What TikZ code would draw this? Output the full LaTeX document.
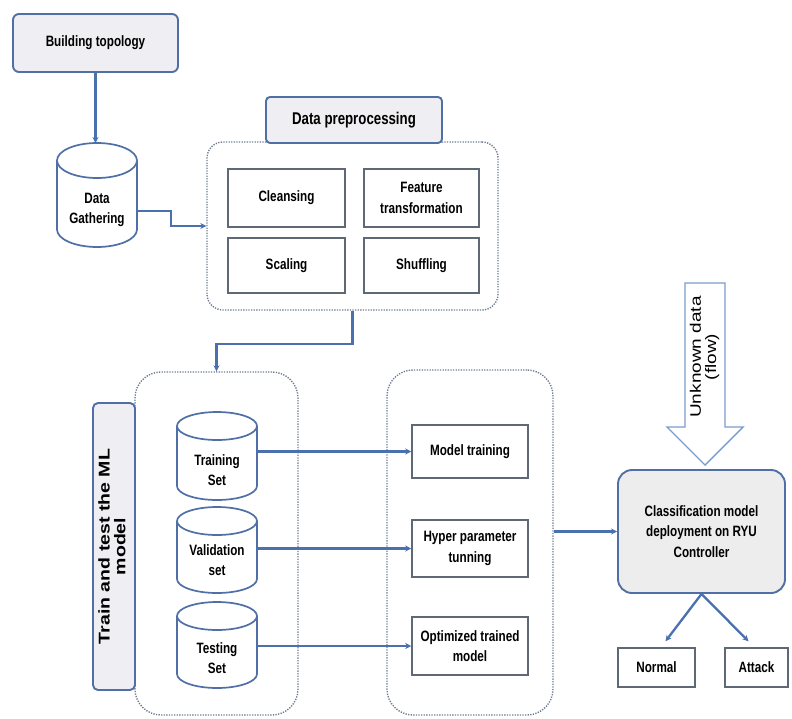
\documentclass[tikz,border=0pt]{standalone}
\usepackage{fontspec}
\setmainfont{Liberation Sans}
\newfontfamily\nar{Liberation Sans}[FakeStretch=0.78]
\newfontfamily\wide{Liberation Sans}
\usetikzlibrary{arrows.meta,calc}
\definecolor{bline}{HTML}{4F6FA6}
\definecolor{aline}{HTML}{4A70AE}
\definecolor{gline}{HTML}{5F6875}
\definecolor{dline}{HTML}{6F7C90}
\definecolor{lfill}{HTML}{EEEEF3}
\definecolor{cfill}{HTML}{EDEDED}
\definecolor{uline}{HTML}{7C9CCB}
\newcommand\mkcyl[6]{%
  \node[minimum width=#4pt, minimum height=#5pt, inner sep=0pt, outer sep=0pt] (#1) at ({#2+#4/2},{#3+#5/2}) {};
  \draw[cyl] ([yshift=-#6pt]#1.north west) -- ([yshift=#6pt]#1.south west)
     arc[start angle=180,end angle=360,x radius={#4/2*1pt},y radius=#6pt]
     -- ([yshift=-#6pt]#1.north east)
     arc[start angle=0,end angle=180,x radius={#4/2*1pt},y radius=#6pt] -- cycle;
  \draw[cyl] ([yshift=-#6pt]#1.north west) arc[start angle=180,end angle=360,x radius={#4/2*1pt},y radius=#6pt];
}
\begin{document}
\begin{tikzpicture}[x=1pt,y=-1pt,
  font=\nar\bfseries\fontsize{15}{20.5}\selectfont,
  lbl/.style={draw=bline, line width=1.9pt, fill=lfill, rounded corners=6pt, align=center, inner sep=0pt},
  plain/.style={draw=gline, line width=1.5pt, fill=white, align=center, inner sep=0pt},
  cont/.style={draw=dline, line width=1.4pt, dash pattern=on 1.3pt off 1.3pt},
  cyl/.style={draw=bline, line width=1.7pt, fill=white},
  arr/.style={draw=aline, line width=2.3pt, -{Stealth[length=6pt,width=6pt]}}]
\useasboundingbox (0,0) rectangle (792,718);

% top
\node[lbl, minimum width=165pt, minimum height=58pt] (BT) at (95.5,43) {Building topology};
\mkcyl{DG}{57}{143}{80}{104}{17.5}
\node[align=center] (DGt) at ($(DG.center)+(0,15)$) {Data\\Gathering};

% data preprocessing
\node[cont, rounded corners=16pt, minimum width=291pt, minimum height=168pt] (PR) at (352.5,226) {};
\node[lbl, rounded corners=4pt, font=\nar\bfseries\fontsize{17}{20}\selectfont, minimum width=176pt, minimum height=46pt] (PL) at (354,120) {Data preprocessing};
\node[plain, minimum width=117pt, minimum height=58pt] (CLS) at (286.5,198) {Cleansing};
\node[plain, minimum width=115pt, minimum height=58pt] (FT) at (421.5,198) {Feature\\transformation};
\node[plain, minimum width=117pt, minimum height=55pt] (SC) at (286.5,265.5) {Scaling};
\node[plain, minimum width=115pt, minimum height=55pt] (SH) at (421.5,265.5) {Shuffling};

% train container
\node[cont, rounded corners=26pt, minimum width=163pt, minimum height=343pt] (TC) at (216.5,543.5) {};
\node[lbl, rounded corners=5pt, rotate=90, minimum width=287pt, minimum height=42pt] (TL) at (114,546.5)
  {\scalebox{1}[0.8]{\wide\bfseries\fontsize{19.5}{18.5}\selectfont\begin{tabular}{@{}c@{}}Train and test the ML\\model\end{tabular}}};
\mkcyl{TS}{177}{412}{80}{88}{14}
\node[align=center] (TSt) at ($(TS.center)+(0,14)$) {Training\\Set};
\mkcyl{VS}{177}{507}{80}{86}{14}
\node[align=center] (VSt) at ($(VS.center)+(0,10)$) {Validation\\set};
\mkcyl{ES}{177}{602}{80}{86}{14}
\node[align=center] (ESt) at ($(ES.center)+(0,13)$) {Testing\\Set};

% model container
\node[cont, rounded corners=26pt, minimum width=166pt, minimum height=345pt] (MC) at (470,542.5) {};
\node[plain, minimum width=116pt, minimum height=53pt] (MT) at (470,451.5) {Model training};
\node[plain, minimum width=116pt, minimum height=57pt] (HP) at (470,548.5) {Hyper parameter\\tunning};
\node[plain, minimum width=116pt, minimum height=58pt] (OT) at (470,646) {Optimized trained\\model};

% classification
\node[lbl, fill=cfill, rounded corners=14pt, minimum width=167pt, minimum height=123pt] (CL) at (701.5,531.5)
  {Classification model\\deployment on RYU\\Controller};
\node[plain, minimum width=77pt, minimum height=39pt] (NO) at (656.5,667.5) {Normal};
\node[plain, minimum width=63pt, minimum height=39pt] (AT) at (756.5,667.5) {Attack};

% big hollow arrow
\draw[uline, line width=1.4pt, fill=white] (685,283) -- (725,283) -- (725,427) -- (743,427) -- (705,465) -- (667,427) -- (685,427) -- cycle;
\node[rotate=90] (UD) at (705,357)
  {\scalebox{1}[0.8]{\wide\mdseries\fontsize{19}{17}\selectfont\begin{tabular}{@{}c@{}}Unknown data\\(flow)\end{tabular}}};

% connectors
\draw[arr] (BT.south) -- (BT.south |- DG.north);
\draw[arr] ([yshift=-16pt]DG.east) -- ++(34,0) |- (PR.west);
\draw[arr] (PR.south) -- ++(0,33) -| (TC.north);
\draw[arr] (TS.east |- MT.west) -- (MT.west);
\draw[arr] (VS.east |- HP.west) -- (HP.west);
\draw[arr] (ES.east |- OT.west) -- (OT.west);
\draw[arr] (MC.east |- CL.west) -- (CL.west);
\draw[arr] (CL.south) -- ($(NO.north)+(9,-6)$);
\draw[arr] (CL.south) -- ($(AT.north)+(-8,-6)$);
\end{tikzpicture}
\end{document}
